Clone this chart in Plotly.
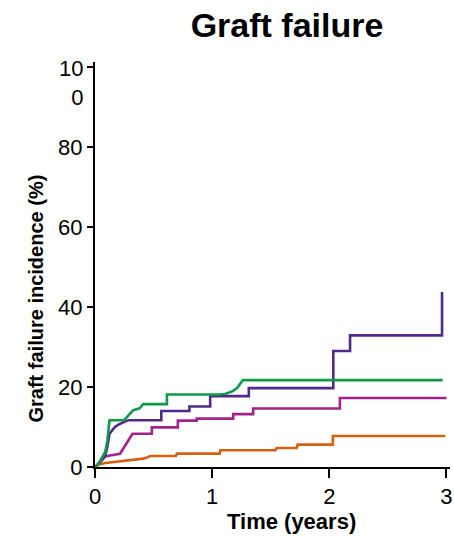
import plotly.graph_objects as go

# ---- data ----
green_t = [0, 0.017, 0.05, 0.087, 0.105, 0.124, 0.248, 0.29, 0.327, 0.383, 0.411, 0.425, 0.614, 0.614, 1.059, 1.115, 1.172, 1.214, 1.24, 1.262, 2.967]
green_v = [0, 0.3, 1.8, 3.75, 6.5, 11.7, 11.7, 13.0, 14.2, 14.7, 15.7, 15.7, 15.7, 18.1, 18.1, 18.3, 18.9, 19.8, 20.8, 21.7, 21.7]

purple_t = [0, 0.03, 0.087, 0.105, 0.124, 0.15, 0.17, 0.2, 0.228, 0.26, 0.285, 0.566, 0.566, 0.806, 0.806, 0.983, 0.983, 1.313, 1.313, 2.034, 2.034, 2.177, 2.177, 2.962, 2.962]
purple_v = [0, 0.8, 2.8, 5.0, 8.3, 9.2, 10.0, 10.6, 11.0, 11.4, 11.7, 11.7, 14.0, 14.0, 15.1, 15.1, 17.7, 17.7, 19.7, 19.7, 29.0, 29.0, 32.9, 32.9, 43.75]

magenta_t = [0, 0.03, 0.087, 0.115, 0.214, 0.32, 0.485, 0.485, 0.707, 0.707, 0.868, 0.868, 1.18, 1.18, 1.35, 1.35, 2.09, 2.09, 3.0]
magenta_v = [0, 0.8, 2.6, 2.8, 3.3, 8.3, 8.3, 9.9, 9.9, 11.6, 11.6, 12.1, 12.1, 13.2, 13.2, 14.6, 14.6, 17.25, 17.25]

orange_t = [0, 0.03, 0.087, 0.2, 0.3, 0.355, 0.41, 0.44, 0.47, 0.69, 0.7, 1.065, 1.07, 1.54, 1.55, 1.72, 1.73, 2.03, 2.03, 2.99]
orange_v = [0, 0.6, 1.0, 1.33, 1.7, 1.9, 2.1, 2.3, 2.75, 2.75, 3.35, 3.35, 4.2, 4.2, 4.75, 4.75, 5.6, 5.6, 7.75, 7.75]

series = [
    ("orange", orange_t, orange_v, "#d6600f"),
    ("magenta", magenta_t, magenta_v, "#a3238e"),
    ("purple", purple_t, purple_v, "#52288b"),
    ("green", green_t, green_v, "#0e9a48"),
]

x_tickvals = [0, 1, 2, 3]
x_ticktext = ["0", "1", "2", "3"]
y_tickvals = [0, 20, 40, 60, 80, 100]
y_ticktext = ["0", "20", "40", "60", "80", ""]
top_label = "10<br>0"   # the wrapped label of the 100 tick

FONT = "Liberation Sans, Arial, sans-serif"

fig = go.Figure()
for name, t, v, c in series:
    fig.add_trace(go.Scatter(x=t, y=v, mode="lines", name=name,
                             line=dict(color=c, width=2.6, shape="linear"),
                             showlegend=False, hoverinfo="skip"))

W, H = 454, 536
ml, mr, mt, mb = 95, 1, 62, 69
pw, ph = W - ml - mr, H - mt - mb

def px_to_paper_x(px):
    return (px - ml) / pw

def py_to_paper_y(py):
    return (H - mb - py) / ph

fig.update_layout(
    width=W, height=H,
    margin=dict(l=ml, r=mr, t=mt, b=mb, pad=0),
    paper_bgcolor="white", plot_bgcolor="white",
    font=dict(family=FONT, color="black", size=22),
    title=dict(text="<b>Graft failure</b>", x=287 / W, xref="container", xanchor="center",
               y=1 - 25 / H, yref="container", yanchor="middle",
               font=dict(family=FONT, size=34, color="black")),
    xaxis=dict(range=[0, 3.03], tickvals=x_tickvals, ticktext=x_ticktext,
               showgrid=False, zeroline=False, showline=True, linecolor="black", linewidth=2,
               ticks="outside", ticklen=9, tickwidth=2, tickcolor="black",
               ticklabeloverflow="allow",
               tickfont=dict(family=FONT, size=22, color="black")),
    yaxis=dict(range=[0, 101.2], tickvals=y_tickvals, ticktext=y_ticktext,
               showgrid=False, zeroline=False, showline=True, linecolor="black", linewidth=2,
               ticks="outside", ticklen=6, tickwidth=2, tickcolor="black",
               ticklabeloverflow="allow",
               tickfont=dict(family=FONT, size=22, color="black")),
    annotations=[
        dict(text=top_label, x=px_to_paper_x(85), y=py_to_paper_y(83.5),
             xref="paper", yref="paper", xanchor="right", yanchor="middle", align="right",
             showarrow=False, font=dict(family=FONT, size=22, color="black")),
        dict(text="<b>Time (years)</b>", x=px_to_paper_x(293.5), y=py_to_paper_y(521),
             xref="paper", yref="paper", xanchor="center", yanchor="middle", showarrow=False,
             font=dict(family=FONT, size=22, color="black")),
        dict(text="<b>Graft failure incidence (%)</b>", x=px_to_paper_x(35), y=py_to_paper_y(299),
             xref="paper", yref="paper", xanchor="center", yanchor="middle", showarrow=False,
             textangle=-90, font=dict(family=FONT, size=20, color="black")),
    ],
)

fig.write_html("out.html")
